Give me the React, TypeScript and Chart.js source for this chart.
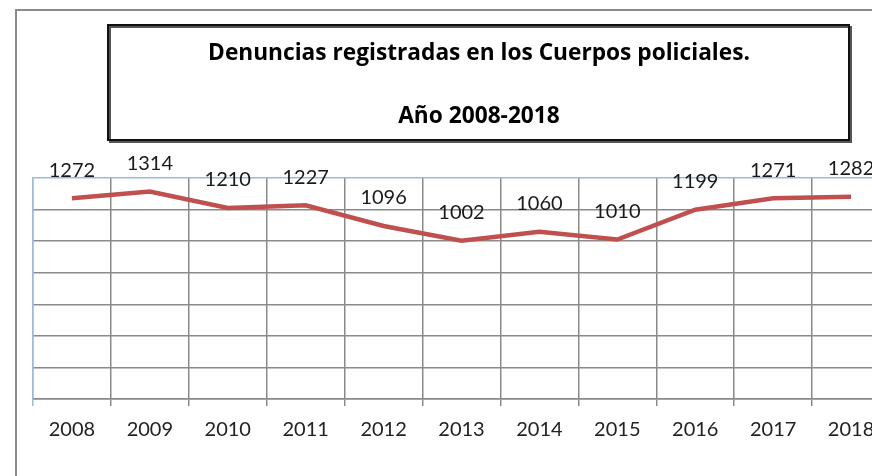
import React, { useEffect, useRef } from "react";
import { Chart, registerables } from "chart.js";

Chart.register(...registerables);

const years = ["2008", "2009", "2010", "2011", "2012", "2013", "2014", "2015", "2016", "2017", "2018"];
const denuncias = [1272, 1314, 1210, 1227, 1096, 1002, 1060, 1010, 1199, 1271, 1282];
const titleLines = ["Denuncias registradas en los Cuerpos policiales.", "Año 2008-2018"];

const GRAY = "#8a8a8a";
const BLUE = "#9cb9dd";

const framePlugin = {
  id: "frameAndTitle",
  beforeDraw(chart: any) {
    const ctx = chart.ctx;
    ctx.save();
    ctx.strokeStyle = "#8c8c8c";
    ctx.lineWidth = 2;
    ctx.beginPath();
    ctx.moveTo(16, 476);
    ctx.lineTo(16, 10);
    ctx.lineTo(chart.width, 10);
    ctx.stroke();
    ctx.restore();
  },
  afterDraw(chart: any) {
    const ctx = chart.ctx;
    ctx.save();
    ctx.strokeStyle = "#555";
    ctx.lineWidth = 2;
    ctx.strokeRect(110, 27, 741, 115);
    ctx.strokeStyle = "#111";
    ctx.lineWidth = 2;
    ctx.strokeRect(108, 25, 741, 115);
    ctx.fillStyle = "#000";
    ctx.font = "bold 22.7px 'Open Sans'";
    ctx.textAlign = "center";
    ctx.textBaseline = "middle";
    ctx.fillText(titleLines[0], 479, 54);
    ctx.fillText(titleLines[1], 479, 117);
    ctx.restore();
  },
};

const labelPlugin = {
  id: "valueLabels",
  afterDatasetsDraw(chart: any) {
    const ctx = chart.ctx;
    const meta = chart.getDatasetMeta(0);
    ctx.save();
    ctx.fillStyle = "#1a1a1a";
    ctx.font = "20px Lato";
    ctx.textAlign = "center";
    ctx.textBaseline = "middle";
    meta.data.forEach((pt: any, i: number) => {
      ctx.fillText(String(denuncias[i]), pt.x, pt.y - 28);
    });
    ctx.restore();
  },
};

export default function App() {
  const ref = useRef<HTMLCanvasElement>(null);
  useEffect(() => {
    if (!ref.current) return;
    const chart = new Chart(ref.current, {
      type: "line",
      data: {
        labels: years,
        datasets: [
          {
            data: denuncias,
            borderColor: "#c0504d",
            borderWidth: 4.5,
            pointRadius: 0,
            tension: 0,
            fill: false,
          },
        ],
      },
      options: {
        animation: false,
        responsive: false,
        layout: { padding: { left: 33, right: 10, top: 178, bottom: 22 } },
        plugins: { legend: { display: false }, title: { display: false }, tooltip: { enabled: false } },
        scales: {
          x: {
            offset: true,
            grid: {
              offset: true,
              color: (c: any) => (c.index === 0 ? BLUE : GRAY),
              lineWidth: 1.5,
              tickLength: 7,
            },
            border: { color: GRAY, width: 1.5 },
            ticks: { color: "#222", font: { family: "Lato", size: 20 }, padding: 12, maxRotation: 0 },
          },
          y: {
            min: 0,
            max: 1400,
            ticks: { display: false, stepSize: 200 },
            grid: {
              drawTicks: false,
              color: (c: any) => (c.tick && c.tick.value === 1400 ? BLUE : GRAY),
              lineWidth: 1.5,
            },
            border: { color: BLUE, width: 1.5 },
          },
        },
      },
      plugins: [framePlugin, labelPlugin],
    });
    return () => chart.destroy();
  }, []);
  return (
    <div style={{ position: "fixed", left: 0, top: 0, width: 872, height: 476, overflow: "hidden", background: "#fff" }}>
      <canvas ref={ref} width={900} height={476} style={{ display: "block" }} />
    </div>
  );
}
